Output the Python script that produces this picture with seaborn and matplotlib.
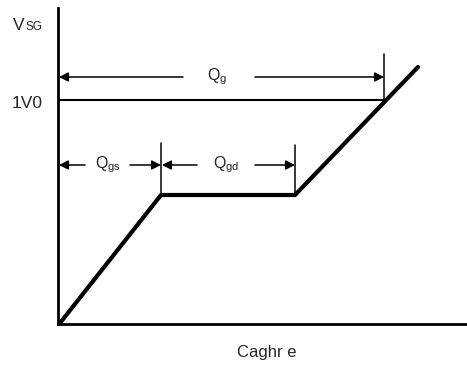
import matplotlib
matplotlib.use("Agg")
import matplotlib.pyplot as plt
import seaborn as sns
import pandas as pd

# Gate charge curve (charge vs. gate voltage), arbitrary units
charge = [0.2, 10.3, 23.7, 36.0]
vsg = [0.1, 12.9, 12.9, 25.7]

# Charge markers
q_gs = 10.3
q_gd_end = 23.7
q_g = 32.6
v_ref = 22.4          # 1V0 level
v_arrow_g = 24.7      # height of the Qg dimension line
v_arrow_gsd = 15.9    # height of the Qgs / Qgd dimension lines

labels = {"y": "V", "y_sub": "SG", "ref": "1V0", "x": "Caghr e"}

sns.set_theme(style="white")
plt.rcParams["font.family"] = ["Liberation Sans", "DejaVu Sans"]
plt.rcParams["mathtext.fontset"] = "custom"
plt.rcParams["mathtext.rm"] = "Liberation Sans"
plt.rcParams["mathtext.it"] = "Liberation Sans"

fig = plt.figure(figsize=(4.67, 3.70), dpi=100)
ax = fig.add_axes([58 / 467, 46 / 370, 409 / 467, 316 / 370])
ax.set_xlim(0, 40.9)
ax.set_ylim(0, 31.6)

df = pd.DataFrame({"charge": charge, "vsg": vsg})
sns.lineplot(data=df, x="charge", y="vsg", ax=ax, sort=False, color="black",
             linewidth=3.0, clip_on=False)

for side in ("top", "right"):
    ax.spines[side].set_visible(False)
for side in ("left", "bottom"):
    ax.spines[side].set_color("black")
    ax.spines[side].set_linewidth(2.0)
ax.set_xticks([])
ax.set_yticks([])
ax.set_xlabel("")
ax.set_ylabel("")

thin = dict(color="black", linewidth=1.1, clip_on=False)
# 1V0 reference line
ax.plot([0, q_g], [v_ref, v_ref], color="black", linewidth=1.5)
# extension ticks
ax.plot([q_g, q_g], [v_ref, 27.0], **thin)
ax.plot([q_gs, q_gs], [vsg[1], 18.1], **thin)
ax.plot([q_gd_end, q_gd_end], [vsg[2], 17.9], **thin)

arrow = dict(arrowstyle="-|>,head_length=0.55,head_width=0.28", color="black",
             lw=1.1, mutation_scale=10, shrinkA=0, shrinkB=0)


def dim(x_from, x_to, y):
    ax.annotate("", xy=(x_to, y), xytext=(x_from, y), arrowprops=arrow,
                annotation_clip=False)


# Qg
dim(12.5, 0.1, v_arrow_g)
dim(19.7, q_g, v_arrow_g)
ax.text(15.9, v_arrow_g, r"Q$_{\mathregular{g}}$", ha="center", va="center", fontsize=11.5)
# Qgs
dim(2.7, 0.1, v_arrow_gsd)
dim(7.2, q_gs, v_arrow_gsd)
ax.text(5.0, v_arrow_gsd, r"Q$_{\mathregular{gs}}$", ha="center", va="center", fontsize=11.5)
# Qgd
dim(13.9, q_gs + 0.1, v_arrow_gsd)
dim(19.7, q_gd_end, v_arrow_gsd)
ax.text(16.8, v_arrow_gsd, r"Q$_{\mathregular{gd}}$", ha="center", va="center", fontsize=11.5)

# axis annotations
fig.text(13 / 467, 1 - 30 / 370, labels["y"], ha="left", va="baseline", fontsize=12.5)
fig.text(26 / 467, 1 - 30 / 370, labels["y_sub"], ha="left", va="baseline", fontsize=8.5)
fig.text(43 / 467, 1 - 103 / 370, labels["ref"], ha="right", va="center", fontsize=12.5)
fig.text(267 / 467, 1 - 352 / 370, labels["x"], ha="center", va="center", fontsize=12)

fig.savefig("out.png", dpi=100)
